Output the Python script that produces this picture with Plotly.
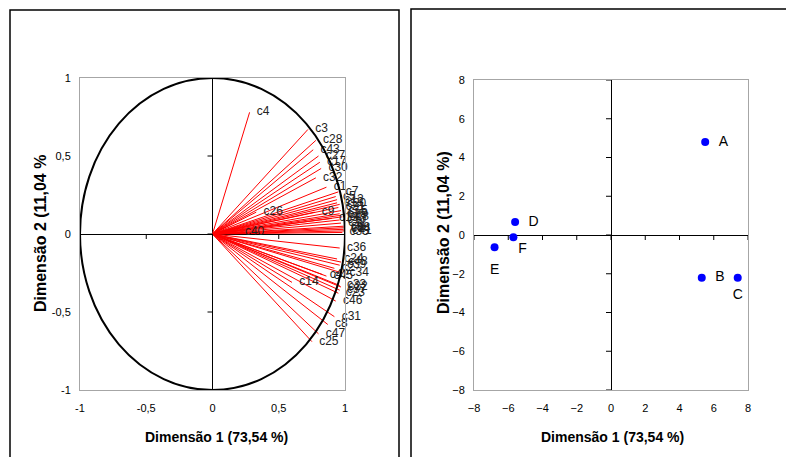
import plotly.graph_objects as go

# ---- Data: variable loadings (correlation circle) ----
var_names = ["c4", "c3", "c28", "c43", "c27", "c17", "c30", "c32", "c1",
             "c7", "c5", "c12", "c13", "c20", "c21", "c15", "c16", "c29", "c18", "c19", "c10", "c11",
             "c26", "c9", "c40",
             "c6", "c38", "c44", "c41", "c35",
             "c36", "c24", "c48", "c39", "c2", "c34", "c42", "c45", "c14",
             "c33", "c22", "c37", "c23", "c46", "c31", "c8", "c47", "c25"]
dim1 = [0.28, 0.72, 0.78, 0.76, 0.80, 0.81, 0.82, 0.78, 0.86,
        0.95, 0.93, 0.94, 0.94, 0.96, 0.95, 0.97, 0.96, 0.97, 0.98, 0.90, 0.96, 0.97,
        0.33, 0.77, 0.19,
        0.99, 0.99, 0.99, 1.00, 0.98,
        0.96, 0.94, 0.97, 0.96, 0.92, 0.98, 0.83, 0.86, 0.60,
        0.96, 0.97, 0.96, 0.95, 0.93, 0.92, 0.87, 0.80, 0.75]
dim2 = [0.78, 0.67, 0.60, 0.54, 0.50, 0.46, 0.42, 0.36, 0.30,
        0.27, 0.24, 0.22, 0.20, 0.19, 0.17, 0.15, 0.13, 0.12, 0.11, 0.10, 0.09, 0.07,
        0.14, 0.14, 0.01,
        0.05, 0.04, 0.03, 0.02, 0.01,
        -0.09, -0.16, -0.18, -0.20, -0.22, -0.25, -0.26, -0.27, -0.31,
        -0.33, -0.34, -0.36, -0.38, -0.43, -0.53, -0.58, -0.64, -0.69]

# ---- Data: individuals (factor map) ----
ind_names = ["A", "B", "C", "D", "E", "F"]
ind_dim1 = [5.5, 5.3, 7.4, -5.6, -6.8, -5.7]
ind_dim2 = [4.8, -2.2, -2.2, 0.67, -0.63, -0.12]
ind_label_pos = ["middle right", "middle right", "bottom center",
                 "middle right", "bottom center", "bottom right"]
ind_label_gap = [20, 20, 16, 20, 24, 6]

left_ticks = [-1, -0.5, 0, 0.5, 1]
left_ticktext = ["-1", "-0,5", "0", "0,5", "1"]
right_ticks = [-8, -6, -4, -2, 0, 2, 4, 6, 8]

x_title = "Dimensão 1 (73,54 %)"
y_title_left = "Dimensão 2 (11,04 %"
y_title_right = "Dimensão 2 (11,04 %)"

W, H = 786, 457
FONT = "Liberation Sans, Arial, sans-serif"

def px_x(p):
    return p / W

def px_y(p):
    return 1 - p / H

fig = go.Figure()

# vectors from origin
lx, ly = [], []
for a, b in zip(dim1, dim2):
    lx += [0, a, None]
    ly += [0, b, None]
fig.add_trace(go.Scatter(x=lx, y=ly, mode="lines", line=dict(color="#ff0000", width=1),
                         hoverinfo="skip", showlegend=False, xaxis="x", yaxis="y"))
fig.add_trace(go.Scatter(x=dim1, y=dim2, mode="markers+text", text=var_names,
                         textposition="middle right", cliponaxis=False,
                         marker=dict(size=10, opacity=0),
                         textfont=dict(family=FONT, size=12, color="#222"),
                         showlegend=False, xaxis="x", yaxis="y"))

# individuals
fig.add_trace(go.Scatter(x=ind_dim1, y=ind_dim2, mode="markers",
                         marker=dict(color="#0000ff", size=8), cliponaxis=False,
                         showlegend=False, xaxis="x2", yaxis="y2"))
fig.add_trace(go.Scatter(x=ind_dim1, y=ind_dim2, mode="markers+text", text=ind_names,
                         textposition=ind_label_pos, cliponaxis=False,
                         marker=dict(size=ind_label_gap, opacity=0),
                         textfont=dict(family=FONT, size=14, color="black"),
                         hoverinfo="skip", showlegend=False, xaxis="x2", yaxis="y2"))

axis_common = dict(showgrid=False, showline=True, mirror=True, linecolor="#a6a6a6",
                   linewidth=1, zeroline=True, zerolinecolor="black", zerolinewidth=1,
                   ticks="", tickfont=dict(family=FONT, size=11, color="black"),
                   fixedrange=True, automargin=False)

fig.update_layout(
    width=W, height=H, autosize=False,
    margin=dict(l=0, r=0, t=0, b=0, pad=0),
    paper_bgcolor="white", plot_bgcolor="white",
    xaxis=dict(domain=[px_x(80), px_x(345)], range=[-1, 1], tickvals=left_ticks,
               ticktext=left_ticktext, anchor="y", ticklabelstandoff=8, **axis_common),
    yaxis=dict(domain=[px_y(390), px_y(78)], range=[-1, 1], tickvals=left_ticks,
               ticktext=left_ticktext, anchor="x", ticklabelstandoff=6, **axis_common),
    xaxis2=dict(domain=[px_x(474), px_x(748)], range=[-8, 8], tickvals=right_ticks,
                anchor="y2", ticklabelstandoff=8, **axis_common),
    yaxis2=dict(domain=[px_y(390), px_y(80)], range=[-8, 8], tickvals=right_ticks,
                anchor="x2", ticklabelstandoff=6, **axis_common),
)

shapes = []
# unit circle
shapes.append(dict(type="circle", xref="x", yref="y", x0=-1, x1=1, y0=-1, y1=1,
                   line=dict(color="black", width=2), layer="above"))
# tick marks on zero axes
for xa, ya, vals in [("x", "y", left_ticks), ("x2", "y2", right_ticks)]:
    for v in vals:
        shapes.append(dict(type="line", xref=xa, yref=ya, x0=v, x1=v, ysizemode="pixel",
                           yanchor=0, y0=0, y1=-5, line=dict(color="black", width=1)))
        shapes.append(dict(type="line", xref=xa, yref=ya, y0=v, y1=v, xsizemode="pixel",
                           xanchor=0, x0=0, x1=-5, line=dict(color="black", width=1)))
# panel borders
shapes.append(dict(type="rect", xref="paper", yref="paper", x0=px_x(10), x1=px_x(399),
                   y0=-0.1, y1=px_y(10), line=dict(color="black", width=1.5)))
shapes.append(dict(type="rect", xref="paper", yref="paper", x0=px_x(411), x1=1.1,
                   y0=-0.1, y1=px_y(9), line=dict(color="black", width=1.5)))
fig.update_layout(shapes=shapes)

title_font = dict(family=FONT, size=14, color="black")
ann = [
    dict(text="<b>" + x_title + "</b>", x=px_x(216), y=px_y(437), xref="paper", yref="paper",
         showarrow=False, font=title_font, xanchor="center", yanchor="middle"),
    dict(text="<b>" + x_title + "</b>", x=px_x(612), y=px_y(437), xref="paper", yref="paper",
         showarrow=False, font=title_font, xanchor="center", yanchor="middle"),
    dict(text="<b>" + y_title_left + "</b>", x=px_x(40), y=px_y(234), xref="paper", yref="paper",
         showarrow=False, font=dict(family=FONT, size=16, color="black"), textangle=-90,
         xanchor="center", yanchor="middle"),
    dict(text="<b>" + y_title_right + "</b>", x=px_x(443), y=px_y(232), xref="paper", yref="paper",
         showarrow=False, font=dict(family=FONT, size=16, color="black"), textangle=-90,
         xanchor="center", yanchor="middle"),
]
fig.update_layout(annotations=ann)

fig.write_html("out.html", config={"responsive": False, "displayModeBar": False},
               post_script="document.body.style.margin='0';document.body.style.padding='0';")
